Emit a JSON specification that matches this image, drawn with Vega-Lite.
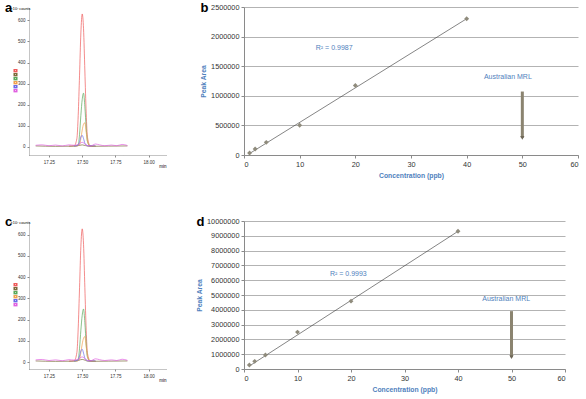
{
  "$schema": "https://vega.github.io/schema/vega-lite/v6.json",
  "background": "white",
  "padding": {"left": 5, "top": 2, "right": 5, "bottom": 0},
  "config": {
    "font": "Liberation Sans",
    "view": {"stroke": null},
    "axis": {"labelColor": "#333333", "domainColor": "#8a8a8a", "tickColor": "#8a8a8a", "labelFont": "Liberation Sans", "labelOverlap": false, "tickCount": 30},
    "title": {"fontSize": 13, "fontWeight": "bold", "anchor": "start", "frame": "bounds", "color": "#000000"}
  },
  "datasets": {
    "chromA": [
      {"trace": "t1", "t": 17.40, "v": 4}, {"trace": "t1", "t": 17.44, "v": 6}, {"trace": "t1", "t": 17.46, "v": 40}, {"trace": "t1", "t": 17.47, "v": 150}, {"trace": "t1", "t": 17.48, "v": 340}, {"trace": "t1", "t": 17.49, "v": 540}, {"trace": "t1", "t": 17.50, "v": 630}, {"trace": "t1", "t": 17.51, "v": 560}, {"trace": "t1", "t": 17.52, "v": 360}, {"trace": "t1", "t": 17.53, "v": 160}, {"trace": "t1", "t": 17.54, "v": 45}, {"trace": "t1", "t": 17.56, "v": 6}, {"trace": "t1", "t": 17.60, "v": 4},
      {"trace": "t2", "t": 17.15, "v": 5}, {"trace": "t2", "t": 17.30, "v": 3}, {"trace": "t2", "t": 17.45, "v": 4}, {"trace": "t2", "t": 17.50, "v": 10}, {"trace": "t2", "t": 17.55, "v": 3}, {"trace": "t2", "t": 17.70, "v": 4}, {"trace": "t2", "t": 17.84, "v": 5},
      {"trace": "t3", "t": 17.44, "v": 4}, {"trace": "t3", "t": 17.47, "v": 10}, {"trace": "t3", "t": 17.48, "v": 60}, {"trace": "t3", "t": 17.49, "v": 150}, {"trace": "t3", "t": 17.50, "v": 225}, {"trace": "t3", "t": 17.51, "v": 255}, {"trace": "t3", "t": 17.52, "v": 190}, {"trace": "t3", "t": 17.53, "v": 90}, {"trace": "t3", "t": 17.54, "v": 25}, {"trace": "t3", "t": 17.56, "v": 4}, {"trace": "t3", "t": 17.60, "v": 3},
      {"trace": "t4", "t": 17.45, "v": 3}, {"trace": "t4", "t": 17.48, "v": 10}, {"trace": "t4", "t": 17.49, "v": 40}, {"trace": "t4", "t": 17.50, "v": 80}, {"trace": "t4", "t": 17.51, "v": 108}, {"trace": "t4", "t": 17.52, "v": 115}, {"trace": "t4", "t": 17.53, "v": 70}, {"trace": "t4", "t": 17.54, "v": 25}, {"trace": "t4", "t": 17.56, "v": 4}, {"trace": "t4", "t": 17.60, "v": 3},
      {"trace": "t5", "t": 17.44, "v": 5}, {"trace": "t5", "t": 17.47, "v": 8}, {"trace": "t5", "t": 17.48, "v": 25}, {"trace": "t5", "t": 17.49, "v": 48}, {"trace": "t5", "t": 17.50, "v": 55}, {"trace": "t5", "t": 17.51, "v": 40}, {"trace": "t5", "t": 17.52, "v": 18}, {"trace": "t5", "t": 17.54, "v": 6}, {"trace": "t5", "t": 17.60, "v": 5},
      {"trace": "t6", "t": 17.15, "v": 8}, {"trace": "t6", "t": 17.20, "v": 10}, {"trace": "t6", "t": 17.25, "v": 6}, {"trace": "t6", "t": 17.30, "v": 9}, {"trace": "t6", "t": 17.35, "v": 5}, {"trace": "t6", "t": 17.40, "v": 10}, {"trace": "t6", "t": 17.44, "v": 8}, {"trace": "t6", "t": 17.47, "v": 12}, {"trace": "t6", "t": 17.50, "v": 22}, {"trace": "t6", "t": 17.53, "v": 10}, {"trace": "t6", "t": 17.56, "v": 4}, {"trace": "t6", "t": 17.60, "v": 14}, {"trace": "t6", "t": 17.63, "v": 10}, {"trace": "t6", "t": 17.67, "v": 6}, {"trace": "t6", "t": 17.72, "v": 9}, {"trace": "t6", "t": 17.76, "v": 6}, {"trace": "t6", "t": 17.80, "v": 12}, {"trace": "t6", "t": 17.84, "v": 7}
    ],
    "chromC": [
      {"trace": "t1", "t": 17.40, "v": 4}, {"trace": "t1", "t": 17.44, "v": 6}, {"trace": "t1", "t": 17.46, "v": 45}, {"trace": "t1", "t": 17.47, "v": 160}, {"trace": "t1", "t": 17.48, "v": 350}, {"trace": "t1", "t": 17.49, "v": 545}, {"trace": "t1", "t": 17.50, "v": 628}, {"trace": "t1", "t": 17.51, "v": 555}, {"trace": "t1", "t": 17.52, "v": 350}, {"trace": "t1", "t": 17.53, "v": 150}, {"trace": "t1", "t": 17.54, "v": 40}, {"trace": "t1", "t": 17.56, "v": 6}, {"trace": "t1", "t": 17.60, "v": 4},
      {"trace": "t2", "t": 17.15, "v": 5}, {"trace": "t2", "t": 17.30, "v": 3}, {"trace": "t2", "t": 17.45, "v": 4}, {"trace": "t2", "t": 17.50, "v": 12}, {"trace": "t2", "t": 17.55, "v": 3}, {"trace": "t2", "t": 17.70, "v": 4}, {"trace": "t2", "t": 17.84, "v": 5},
      {"trace": "t3", "t": 17.44, "v": 4}, {"trace": "t3", "t": 17.47, "v": 12}, {"trace": "t3", "t": 17.48, "v": 65}, {"trace": "t3", "t": 17.49, "v": 150}, {"trace": "t3", "t": 17.50, "v": 220}, {"trace": "t3", "t": 17.51, "v": 250}, {"trace": "t3", "t": 17.52, "v": 185}, {"trace": "t3", "t": 17.53, "v": 85}, {"trace": "t3", "t": 17.54, "v": 22}, {"trace": "t3", "t": 17.56, "v": 4}, {"trace": "t3", "t": 17.60, "v": 3},
      {"trace": "t4", "t": 17.45, "v": 3}, {"trace": "t4", "t": 17.48, "v": 12}, {"trace": "t4", "t": 17.49, "v": 45}, {"trace": "t4", "t": 17.50, "v": 85}, {"trace": "t4", "t": 17.51, "v": 112}, {"trace": "t4", "t": 17.52, "v": 120}, {"trace": "t4", "t": 17.53, "v": 72}, {"trace": "t4", "t": 17.54, "v": 25}, {"trace": "t4", "t": 17.56, "v": 4}, {"trace": "t4", "t": 17.60, "v": 3},
      {"trace": "t5", "t": 17.44, "v": 5}, {"trace": "t5", "t": 17.47, "v": 9}, {"trace": "t5", "t": 17.48, "v": 28}, {"trace": "t5", "t": 17.49, "v": 52}, {"trace": "t5", "t": 17.50, "v": 60}, {"trace": "t5", "t": 17.51, "v": 42}, {"trace": "t5", "t": 17.52, "v": 18}, {"trace": "t5", "t": 17.54, "v": 6}, {"trace": "t5", "t": 17.60, "v": 5},
      {"trace": "t6", "t": 17.15, "v": 10}, {"trace": "t6", "t": 17.20, "v": 12}, {"trace": "t6", "t": 17.25, "v": 7}, {"trace": "t6", "t": 17.30, "v": 10}, {"trace": "t6", "t": 17.35, "v": 6}, {"trace": "t6", "t": 17.40, "v": 11}, {"trace": "t6", "t": 17.44, "v": 9}, {"trace": "t6", "t": 17.47, "v": 14}, {"trace": "t6", "t": 17.50, "v": 24}, {"trace": "t6", "t": 17.53, "v": 11}, {"trace": "t6", "t": 17.56, "v": 5}, {"trace": "t6", "t": 17.60, "v": 15}, {"trace": "t6", "t": 17.63, "v": 11}, {"trace": "t6", "t": 17.67, "v": 7}, {"trace": "t6", "t": 17.72, "v": 10}, {"trace": "t6", "t": 17.76, "v": 7}, {"trace": "t6", "t": 17.80, "v": 13}, {"trace": "t6", "t": 17.84, "v": 8}
    ],
    "bPts": [
      {"c": 1, "a": 35000}, {"c": 2, "a": 102000}, {"c": 4, "a": 214000}, {"c": 10, "a": 502000}, {"c": 20, "a": 1174000}, {"c": 40, "a": 2302000}
    ],
    "bTrend": [
      {"c": 1, "a": 25000}, {"c": 40, "a": 2302000}
    ],
    "bMrl": [
      {"c": 50, "top": 1072000, "bottom": 290000}
    ],
    "bText": [
      {"c": 16.2, "a": 1806000, "label": "R² = 0.9987"},
      {"c": 47.4, "a": 1315000, "label": "Australian MRL"}
    ],
    "dPts": [
      {"c": 1, "a": 270000}, {"c": 2, "a": 517000}, {"c": 4, "a": 944000}, {"c": 10, "a": 2494000}, {"c": 20, "a": 4584000}, {"c": 40, "a": 9303000}
    ],
    "dTrend": [
      {"c": 1, "a": 200000}, {"c": 40, "a": 9303000}
    ],
    "dMrl": [
      {"c": 50, "top": 3910000, "bottom": 800000}
    ],
    "dText": [
      {"c": 19.5, "a": 6400000, "label": "R² = 0.9993"},
      {"c": 49.0, "a": 4740000, "label": "Australian MRL"}
    ]
  },
  "resolve": {"scale": {"color": "independent"}, "legend": {"color": "independent"}},
  "spacing": 36,
  "vconcat": [
    {
      "resolve": {"scale": {"color": "independent"}, "legend": {"color": "independent"}},
      "bounds": "flush",
      "spacing": 78,
      "hconcat": [
        {
          "width": 137, "height": 148,
          "title": {"text": "a", "offset": -9, "dx": -5},
          "data": {"name": "chromA"},
          "mark": {"type": "line", "strokeWidth": 0.7, "interpolate": "monotone"},
          "encoding": {
            "x": {"field": "t", "type": "quantitative", "scale": {"domain": [17.1, 18.13], "nice": false, "zero": false},
              "axis": {"values": [17.25, 17.5, 17.75, 18.0], "tickCount": 30, "format": ".2f", "labelFontSize": 4.5, "tickSize": 2, "grid": false, "labelOverlap": false, "title": "min", "titleFontSize": 4.5, "titleFontWeight": "normal", "titleAnchor": "end", "titlePadding": 0, "domainDash": [1, 1]}},
            "y": {"field": "v", "type": "quantitative", "scale": {"domain": [-38, 663], "nice": false},
              "axis": {"values": [0, 100, 200, 300, 400, 500, 600], "tickCount": 30, "labelFontSize": 4.5, "tickSize": 2, "grid": false, "labelOverlap": false, "title": "×10² counts", "titleFontSize": 3.8, "titleFontWeight": "normal", "titleAngle": 0, "titleAlign": "right", "titleBaseline": "middle", "titleX": 1, "titleY": 1, "domainDash": [1, 1]}},
            "color": {"field": "trace", "type": "nominal",
              "scale": {"domain": ["t1", "t2", "t3", "t4", "t5", "t6"], "range": ["#ee5a5a", "#7a6a3a", "#5aa85a", "#f0a050", "#6a6ae8", "#e060e0"]},
              "legend": {"orient": "none", "legendX": -16, "legendY": 62, "title": null, "labelExpr": "''", "labelFontSize": 1, "symbolType": "square", "symbolSize": 6, "rowPadding": 0, "clipHeight": 3.4, "symbolStrokeWidth": 1.6, "labelLimit": 1, "symbolOffset": 0, "padding": 0, "labelOffset": 0}}
          }
        },
        {
          "width": 334, "height": 148,
          "title": {"text": "b", "offset": -12},
          "layer": [
            {
              "data": {"name": "bTrend"},
              "mark": {"type": "line", "color": "#333333", "strokeWidth": 0.6},
              "encoding": {
                "x": {"field": "c", "type": "quantitative", "scale": {"domain": [0, 60], "nice": false},
                  "axis": {"values": [0, 10, 20, 30, 40, 50, 60], "tickCount": 30, "labelFontSize": 7.3, "tickSize": 3, "grid": false, "labelOverlap": false, "title": "Concentration (ppb)", "titleColor": "#4f81bd", "titleFontSize": 6.8, "titleFontWeight": "bold", "titlePadding": 5}},
                "y": {"field": "a", "type": "quantitative", "scale": {"domain": [0, 2500000], "nice": false},
                  "axis": {"values": [0, 500000, 1000000, 1500000, 2000000, 2500000], "tickCount": 30, "format": "d", "labelFontSize": 7.3, "tickSize": 3, "grid": true, "gridColor": "#b3b3b3", "labelOverlap": false, "title": "Peak Area", "titleColor": "#4f81bd", "titleFontSize": 6.8, "titleFontWeight": "bold", "titlePadding": 4}}
              }
            },
            {
              "data": {"name": "bPts"},
              "mark": {"type": "point", "shape": "diamond", "filled": true, "color": "#8f8b7c", "size": 24, "opacity": 1},
              "encoding": {
                "x": {"field": "c", "type": "quantitative", "title": "Concentration (ppb)"},
                "y": {"field": "a", "type": "quantitative", "title": "Peak Area"}
              }
            },
            {
              "data": {"name": "bMrl"},
              "mark": {"type": "rule", "color": "#8b8470", "strokeWidth": 3},
              "encoding": {
                "x": {"field": "c", "type": "quantitative", "title": "Concentration (ppb)"},
                "y": {"field": "top", "type": "quantitative", "title": "Peak Area"},
                "y2": {"field": "bottom", "title": "Peak Area"}
              }
            },
            {
              "data": {"name": "bMrl"},
              "mark": {"type": "point", "shape": "triangle-down", "filled": true, "color": "#6f6858", "size": 18, "opacity": 1},
              "encoding": {
                "x": {"field": "c", "type": "quantitative", "title": "Concentration (ppb)"},
                "y": {"field": "bottom", "type": "quantitative", "title": "Peak Area"}
              }
            },
            {
              "data": {"name": "bText"},
              "mark": {"type": "text", "color": "#4f81bd", "fontSize": 7},
              "encoding": {
                "x": {"field": "c", "type": "quantitative", "title": "Concentration (ppb)"},
                "y": {"field": "a", "type": "quantitative", "title": "Peak Area"},
                "text": {"field": "label"}
              }
            }
          ]
        }
      ]
    },
    {
      "resolve": {"scale": {"color": "independent"}, "legend": {"color": "independent"}},
      "bounds": "flush",
      "spacing": 78,
      "hconcat": [
        {
          "width": 137, "height": 148,
          "title": {"text": "c", "offset": -9, "dx": -5},
          "data": {"name": "chromC"},
          "mark": {"type": "line", "strokeWidth": 0.7, "interpolate": "monotone"},
          "encoding": {
            "x": {"field": "t", "type": "quantitative", "scale": {"domain": [17.1, 18.13], "nice": false, "zero": false},
              "axis": {"values": [17.25, 17.5, 17.75, 18.0], "tickCount": 30, "format": ".2f", "labelFontSize": 4.5, "tickSize": 2, "grid": false, "labelOverlap": false, "title": "min", "titleFontSize": 4.5, "titleFontWeight": "normal", "titleAnchor": "end", "titlePadding": 0, "domainDash": [1, 1]}},
            "y": {"field": "v", "type": "quantitative", "scale": {"domain": [-33, 665], "nice": false},
              "axis": {"values": [0, 100, 200, 300, 400, 500, 600], "tickCount": 30, "labelFontSize": 4.5, "tickSize": 2, "grid": false, "labelOverlap": false, "title": "×10² counts", "titleFontSize": 3.8, "titleFontWeight": "normal", "titleAngle": 0, "titleAlign": "right", "titleBaseline": "middle", "titleX": 1, "titleY": 1, "domainDash": [1, 1]}},
            "color": {"field": "trace", "type": "nominal",
              "scale": {"domain": ["t1", "t2", "t3", "t4", "t5", "t6"], "range": ["#ee5a5a", "#7a6a3a", "#5aa85a", "#f0a050", "#6a6ae8", "#e060e0"]},
              "legend": {"orient": "none", "legendX": -16, "legendY": 62, "title": null, "labelExpr": "''", "labelFontSize": 1, "symbolType": "square", "symbolSize": 6, "rowPadding": 0, "clipHeight": 3.4, "symbolStrokeWidth": 1.6, "labelLimit": 1, "symbolOffset": 0, "padding": 0, "labelOffset": 0}}
          }
        },
        {
          "width": 321, "height": 148,
          "title": {"text": "d", "offset": -12},
          "layer": [
            {
              "data": {"name": "dTrend"},
              "mark": {"type": "line", "color": "#333333", "strokeWidth": 0.6},
              "encoding": {
                "x": {"field": "c", "type": "quantitative", "scale": {"domain": [0, 60], "nice": false},
                  "axis": {"values": [0, 10, 20, 30, 40, 50, 60], "tickCount": 30, "labelFontSize": 7.3, "tickSize": 3, "grid": false, "labelOverlap": false, "title": "Concentration (ppb)", "titleColor": "#4f81bd", "titleFontSize": 6.8, "titleFontWeight": "bold", "titlePadding": 5}},
                "y": {"field": "a", "type": "quantitative", "scale": {"domain": [0, 10000000], "nice": false},
                  "axis": {"values": [0, 1000000, 2000000, 3000000, 4000000, 5000000, 6000000, 7000000, 8000000, 9000000, 10000000], "tickCount": 30, "format": "d", "labelFontSize": 7.3, "tickSize": 3, "grid": true, "gridColor": "#b3b3b3", "labelOverlap": false, "title": "Peak Area", "titleColor": "#4f81bd", "titleFontSize": 6.8, "titleFontWeight": "bold", "titlePadding": 4}}
              }
            },
            {
              "data": {"name": "dPts"},
              "mark": {"type": "point", "shape": "diamond", "filled": true, "color": "#8f8b7c", "size": 24, "opacity": 1},
              "encoding": {
                "x": {"field": "c", "type": "quantitative", "title": "Concentration (ppb)"},
                "y": {"field": "a", "type": "quantitative", "title": "Peak Area"}
              }
            },
            {
              "data": {"name": "dMrl"},
              "mark": {"type": "rule", "color": "#8b8470", "strokeWidth": 3},
              "encoding": {
                "x": {"field": "c", "type": "quantitative", "title": "Concentration (ppb)"},
                "y": {"field": "top", "type": "quantitative", "title": "Peak Area"},
                "y2": {"field": "bottom", "title": "Peak Area"}
              }
            },
            {
              "data": {"name": "dMrl"},
              "mark": {"type": "point", "shape": "triangle-down", "filled": true, "color": "#6f6858", "size": 18, "opacity": 1},
              "encoding": {
                "x": {"field": "c", "type": "quantitative", "title": "Concentration (ppb)"},
                "y": {"field": "bottom", "type": "quantitative", "title": "Peak Area"}
              }
            },
            {
              "data": {"name": "dText"},
              "mark": {"type": "text", "color": "#4f81bd", "fontSize": 7},
              "encoding": {
                "x": {"field": "c", "type": "quantitative", "title": "Concentration (ppb)"},
                "y": {"field": "a", "type": "quantitative", "title": "Peak Area"},
                "text": {"field": "label"}
              }
            }
          ]
        }
      ]
    }
  ]
}
